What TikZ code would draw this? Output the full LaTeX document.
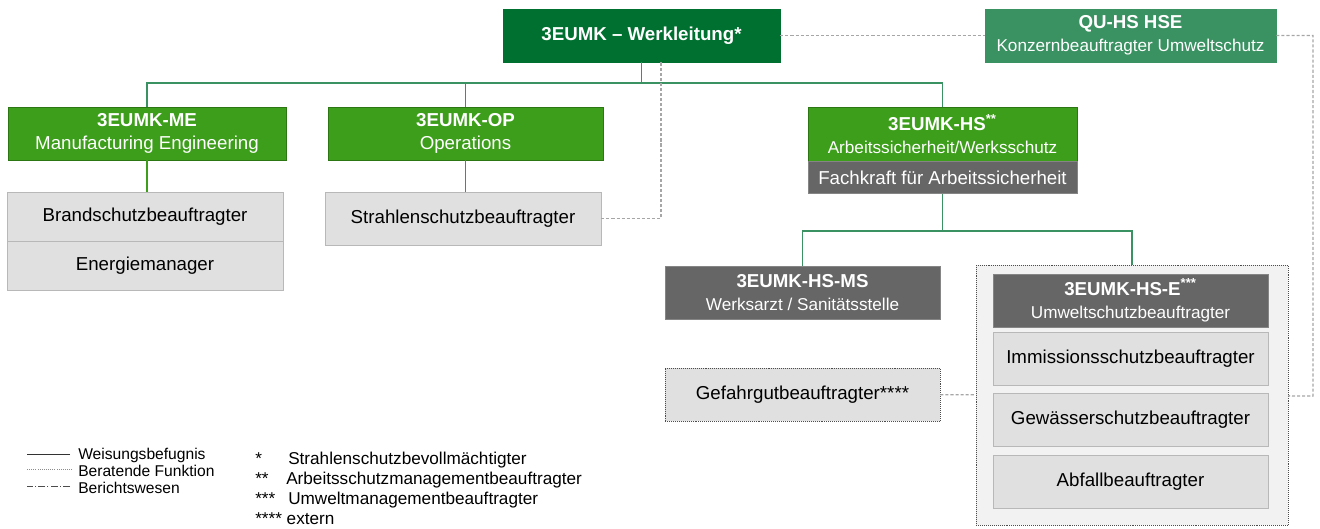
\documentclass[tikz,border=0pt]{standalone}
\usepackage{fontspec}
\setmainfont{Liberation Sans}
\usepackage{tikz}
\usepackage{xcolor}
\usetikzlibrary{positioning}

\definecolor{wlgreen}{RGB}{0,112,48}
\definecolor{qugreen}{RGB}{58,145,97}
\definecolor{unitgreen}{RGB}{60,158,26}
\definecolor{treegreen}{RGB}{58,145,97}
\definecolor{boxgray}{RGB}{102,102,102}
\definecolor{rolegray}{RGB}{224,224,224}
\definecolor{envgray}{RGB}{242,242,242}
\definecolor{linegray}{RGB}{166,166,166}

\newcommand\subfont{\fontsize{12.2}{15.5}\selectfont}
\newcommand\legfont{\fontsize{11.1}{13}\selectfont}
\newcommand\notefont{\fontsize{12.2}{14}\selectfont}

\begin{document}
\begin{tikzpicture}[x=0.025cm, y=-0.025cm, inner sep=0pt, align=center, node distance=0pt,
    font=\fontsize{13.3}{16.5}\selectfont]

    \tikzstyle{topbox}=[fill=wlgreen, draw=wlgreen, text=white, minimum height=1.325cm]
    \tikzstyle{qubox}=[fill=qugreen, draw=qugreen, text=white, minimum height=1.325cm]
    \tikzstyle{unitbox}=[fill=unitgreen, draw=unitgreen!75!black, text=white, minimum height=1.325cm]
    \tikzstyle{darkbox}=[fill=boxgray, draw=boxgray!80!white, text=white, minimum height=1.325cm]
    \tikzstyle{rolebox}=[fill=rolegray, draw=rolegray!82!black, text=black, minimum height=1.325cm]
    \tikzstyle{extbox}=[rolebox, draw=black!70, densely dotted]
    \tikzstyle{envbox}=[fill=envgray, draw=black!70, densely dotted]
    \tikzstyle{order}=[draw=treegreen, line width=0.9pt]
    \tikzstyle{advice}=[draw=linegray, line width=0.9pt, dash pattern=on 2.2pt off 1.4pt]

    \useasboundingbox (0,0) rectangle (1320,528);

    \node[topbox, minimum width=6.925cm]  (wl) at (641.5,35.5) {\textbf{3EUMK – Werkleitung*}};
    \node[qubox, minimum width=7.275cm]   (qu) at (1130.5,35.5) {\textbf{QU-HS HSE}\\{\subfont Konzernbeauftragter Umweltschutz}};
    \node[unitbox, minimum width=6.95cm]  (me) at (147,133.5) {\textbf{3EUMK-ME}\\Manufacturing Engineering};
    \node[unitbox, minimum width=6.875cm] (op) at (465.5,133.5) {\textbf{3EUMK-OP}\\Operations};
    \node[unitbox, minimum width=6.725cm, minimum height=1.35cm] (hs) at (942.5,134)
        {\textbf{3EUMK-HS\textsuperscript{**}}\\{\subfont Arbeitssicherheit/Werksschutz}};
    \node[darkbox, minimum width=6.725cm, minimum height=0.8cm, below=of hs] (fk) {Fachkraft für Arbeitssicherheit};

    \node[rolebox, minimum width=6.9cm, minimum height=1.225cm] (bs) at (145,216.5) {Brandschutzbeauftragter};
    \node[rolebox, minimum width=6.9cm, minimum height=1.225cm, below=of bs] (en) {Energiemanager};
    \node[rolebox, minimum width=6.9cm] (sl) at (463,218.5) {Strahlenschutzbeauftragter};

    \node[darkbox, minimum width=6.875cm] (ms) at (802.5,292.5) {\textbf{3EUMK-HS-MS}\\{\subfont Werksarzt / Sanitätsstelle}};
    \node[extbox, minimum width=6.875cm]  (gg) at (802.5,394.5) {Gefahrgutbeauftragter****};

    \node[envbox, minimum width=7.8cm, minimum height=6.5cm] (env) at (1132,395) {};
    \node[darkbox, minimum width=6.875cm] (hse) at (1130.5,300.5) {\textbf{3EUMK-HS-E\textsuperscript{***}}\\{\subfont Umweltschutzbeauftragter}};
    \node[rolebox, minimum width=6.875cm] (im) at (1130.5,358.5) {Immissionsschutzbeauftragter};
    \node[rolebox, minimum width=6.875cm] (gw) at (1130.5,419.5) {Gewässerschutzbeauftragter};
    \node[rolebox, minimum width=6.875cm] (ab) at (1130.5,481.5) {Abfallbeauftragter};

    \coordinate (j1) at (641.5,83);
    \coordinate (j2) at (942.5,231);
    \coordinate (wd) at (661,62);
    \coordinate (qd) at (1313,396);

    % Weisungsbefugnis
    \draw[order] (wl) -- (j1);
    \draw[order] (me) |- (j1) -| (hs);
    \draw[order] (op) -- (op |- j1);
    \draw[order, draw=unitgreen] (me.south) -- (me.south |- bs.north);
    \draw[order] (op.south) -- (op.south |- sl.north);
    \draw[order] (fk) -- (j2);
    \draw[order] (ms) |- (j2) -| (env);

    % beratende Funktion
    \draw[advice] (wl) -- (qu);
    \draw[advice] (qu) -| (qd) -- (env);
    \draw[advice] (sl) -| (wd);
    \draw[advice] (gg) -- (env);

    % Legende
    \node[anchor=base west, font=\legfont] (l1) at (78,459) {Weisungsbefugnis};
    \node[anchor=base west, font=\legfont] (l2) at (78,476) {Beratende Funktion};
    \node[anchor=base west, font=\legfont] (l3) at (78,493) {Berichtswesen};
    \draw[black!80, line width=0.5pt] (l1.west) ++(-8,-1) -- ++(-43,0);
    \draw[black!45, line width=0.5pt, densely dotted] (l2.west) ++(-6,-1) -- ++(-45,0);
    \draw[black!70, line width=0.5pt, dash pattern=on 5pt off 1.5pt on 0.8pt off 1.5pt] (l3.west) ++(-8,-1) -- ++(-43,0);

    \node[anchor=base west, font=\notefont] (s1) at (255,464) {*};
    \node[anchor=base west, font=\notefont] (n1) at (288,464) {Strahlenschutzbevollmächtigter};
    \node[anchor=base west, font=\notefont] (s2) at (255,484) {**};
    \node[anchor=base west, font=\notefont] (n2) at (286,484) {Arbeitsschutzmanagementbeauftragter};
    \node[anchor=base west, font=\notefont] (s3) at (255,504) {***};
    \node[anchor=base west, font=\notefont] (n3) at (288,504) {Umweltmanagementbeauftragter};
    \node[anchor=base west, font=\notefont] (n4) at (255,524) {**** extern};
\end{tikzpicture}
\end{document}
